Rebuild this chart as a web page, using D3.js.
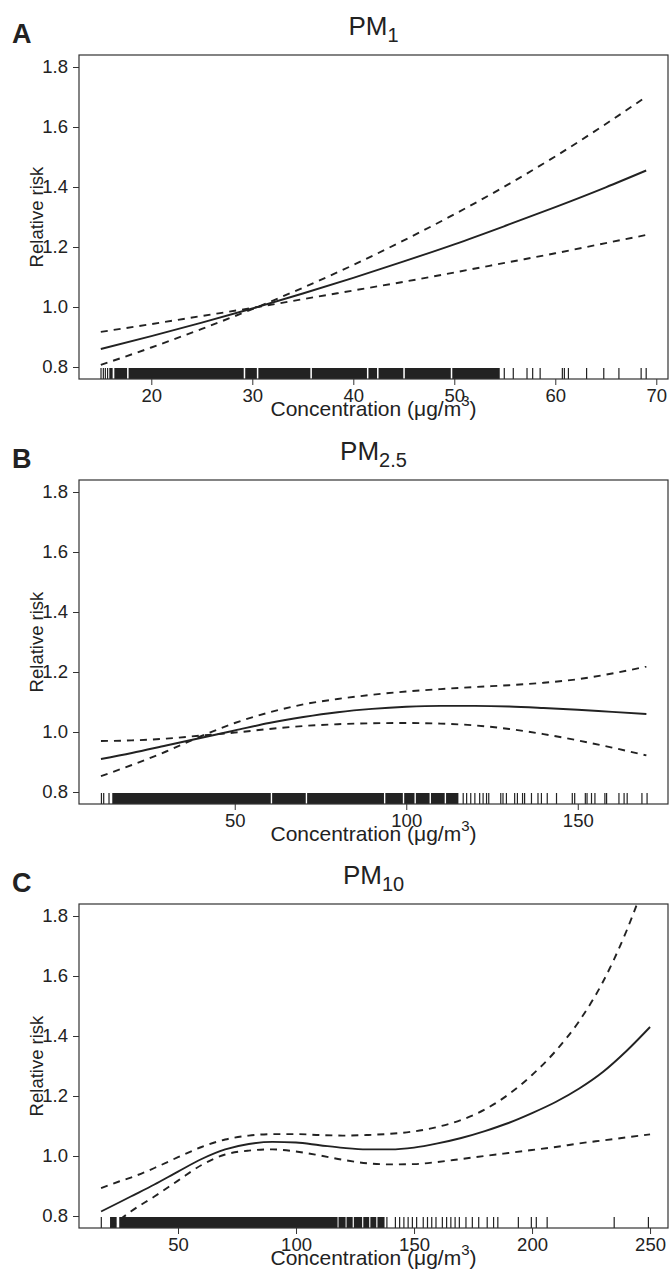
<!DOCTYPE html>
<html>
<head>
<meta charset="utf-8">
<script src="https://cdn.jsdelivr.net/npm/d3@7"></script>
<style>
  body { margin: 0; background: #fff; }
  svg { display: block; font-family: "Liberation Sans", Arial, sans-serif; }
  .tick text { fill: #222; }
  .tick line { stroke: #333; }
</style>
</head>
<body>
<svg id="chart" width="670" height="1269"></svg>
<script>
// shared y ticks
const riskTicks = [0.8, 1.0, 1.2, 1.4, 1.6, 1.8];

// PM1 (panel A)
const pm1Ticks = [20, 30, 40, 50, 60, 70];
const pm1X = [15, 20, 25, 30, 35, 40, 45, 50, 55, 60, 65, 69];
const pm1Fit = [0.860, 0.903, 0.948, 0.995, 1.045, 1.097, 1.152, 1.209, 1.270, 1.333, 1.399, 1.455];
const pm1Upper = [0.807, 0.865, 0.927, 0.993, 1.064, 1.140, 1.222, 1.309, 1.402, 1.502, 1.610, 1.701];
const pm1Lower = [0.917, 0.943, 0.970, 0.997, 1.026, 1.055, 1.084, 1.115, 1.147, 1.179, 1.213, 1.240];
const pm1Rug = [15.02, 15.25, 15.45, 15.67, 54.95, 55.84, 57.2, 57.76, 58.5, 60.7, 60.9, 61.3, 63.1, 64.8, 66.3, 68.5, 69.0];
const pm1RugDense = [[15.84, 16.17], [16.34, 17.6], [17.75, 29.15], [29.3, 30.45], [30.6, 35.75],
  [35.9, 41.35], [41.5, 42.35], [42.5, 44.95], [45.1, 49.65], [49.8, 54.5]];

// PM2.5 (panel B)
const pm25Ticks = [50, 100, 150];
const pm25X = [11, 20, 30, 40, 50, 60, 70, 80, 90, 100, 110, 120, 130, 140, 150, 160, 170];
const pm25Fit = [0.910, 0.930, 0.955, 0.980, 1.005, 1.030, 1.050, 1.066, 1.077, 1.084, 1.087, 1.087, 1.085, 1.080, 1.074, 1.067, 1.060];
const pm25Upper = [0.853, 0.890, 0.935, 0.985, 1.030, 1.065, 1.092, 1.110, 1.124, 1.135, 1.143, 1.150, 1.156, 1.164, 1.176, 1.195, 1.218];
const pm25Lower = [0.970, 0.972, 0.978, 0.988, 0.998, 1.010, 1.020, 1.026, 1.029, 1.030, 1.028, 1.022, 1.010, 0.993, 0.972, 0.948, 0.922];
const pm25Rug = [11.14, 11.8, 13.35, 116.6, 117.6, 118.8, 120.0, 121.4, 122.4, 123.4, 124.05, 127.55, 128.2,
  129.2, 131.6, 132.4, 133.9, 134.5, 136.5, 138.4, 139.4, 141.1, 143.8, 148.4, 149.1, 152.2, 152.7, 154.0,
  155.0, 157.9, 158.4, 162.0, 163.5, 164.4, 168.7, 170.2];
const pm25RugDense = [[14.3, 60.5], [60.9, 70.7], [71.1, 93.5], [93.9, 99.0], [99.4, 102.4],
  [102.8, 106.8], [107.2, 111.2], [111.6, 115.2]];

// PM10 (panel C)
const pm10Ticks = [50, 100, 150, 200, 250];
const pm10X = [17.4, 25, 30, 40, 50, 60, 70, 80, 90, 100, 110, 120, 130, 140, 150, 160, 170, 180, 190, 200, 210, 220, 230, 240, 250];
const pm10Fit = [0.815, 0.845, 0.865, 0.905, 0.948, 0.990, 1.022, 1.040, 1.047, 1.045, 1.036, 1.027, 1.022,
  1.022, 1.028, 1.042, 1.060, 1.083, 1.110, 1.143, 1.180, 1.225, 1.280, 1.350, 1.430];
const pm10Upper = [0.893, 0.915, 0.928, 0.960, 0.996, 1.030, 1.055, 1.068, 1.073, 1.073, 1.070, 1.068, 1.070,
  1.074, 1.082, 1.097, 1.120, 1.155, 1.205, 1.270, 1.350, 1.450, 1.580, 1.750, 1.960];
const pm10Lower = [0.730, 0.785, 0.815, 0.865, 0.918, 0.970, 1.005, 1.018, 1.022, 1.015, 1.002, 0.987, 0.976,
  0.972, 0.973, 0.980, 0.990, 1.000, 1.010, 1.020, 1.030, 1.042, 1.052, 1.062, 1.072];
const pm10Rug = [17.5, 138.5, 142.1, 143.9, 145.7, 147.5, 149.3, 151.1, 153.9, 155.7, 157.5, 159.3, 162.0,
  163.8, 165.6, 167.4, 169.2, 172.0, 174.7, 177.4, 181.0, 183.7, 185.5, 194.2, 199.7, 201.8, 206.4, 234.8, 249.3];
const pm10RugDense = [[21.2, 24.0], [25.1, 117.6], [118.0, 121.0], [121.4, 124.0], [124.5, 128.0],
  [128.5, 131.0], [131.5, 134.0], [134.5, 137.5]];

const svg = d3.select('#chart');
const ink = '#222';

function renderPanel(p) {
  // plot box
  const left = 79;
  const right = 668;
  const top = p.top;
  const bottom = p.top + 324;

  const x = d3.scaleLinear().domain(p.xDomain).range([left, right]);
  const y = d3.scaleLinear().domain([0.76, 1.84]).range([bottom, top]);

  const g = svg.append('g');

  const clipId = 'clip-' + p.letter;
  g.append('clipPath')
    .attr('id', clipId)
    .append('rect')
    .attr('x', left)
    .attr('y', top)
    .attr('width', right - left)
    .attr('height', bottom - top);

  // rug: dense runs and single ticks
  const rugH = 11;
  g.append('g')
    .selectAll('rect')
    .data(p.rugDense)
    .join('rect')
    .attr('x', (d) => x(d[0]))
    .attr('y', bottom - rugH)
    .attr('width', (d) => x(d[1]) - x(d[0]))
    .attr('height', rugH)
    .attr('fill', ink);

  g.append('g')
    .selectAll('line')
    .data(p.rug)
    .join('line')
    .attr('x1', (d) => x(d))
    .attr('x2', (d) => x(d))
    .attr('y1', bottom)
    .attr('y2', bottom - rugH)
    .attr('stroke', ink)
    .attr('stroke-width', 1.2);

  // curves
  const line = d3
    .line()
    .x((d) => x(d[0]))
    .y((d) => y(d[1]))
    .curve(d3.curveMonotoneX);

  const series = [
    { values: p.upper, dash: '7,6' },
    { values: p.lower, dash: '7,6' },
    { values: p.fit, dash: null },
  ];

  g.append('g')
    .attr('clip-path', `url(#${clipId})`)
    .selectAll('path')
    .data(series)
    .join('path')
    .attr('d', (s) => line(d3.zip(p.x, s.values)))
    .attr('fill', 'none')
    .attr('stroke', ink)
    .attr('stroke-width', 1.9)
    .attr('stroke-dasharray', (s) => s.dash);

  // axes
  const yAxis = g
    .append('g')
    .attr('transform', `translate(${left},0)`)
    .call(d3.axisLeft(y).tickValues(riskTicks).tickFormat(d3.format('.1f')).tickSize(6).tickPadding(5));
  yAxis.select('.domain').remove();
  yAxis.selectAll('text').attr('font-size', 18.5).attr('font-family', null);

  const xAxis = g
    .append('g')
    .attr('transform', `translate(0,${bottom})`)
    .call(d3.axisBottom(x).tickValues(p.ticks).tickSize(6).tickPadding(4));
  xAxis.select('.domain').remove();
  xAxis.selectAll('text').attr('font-size', 18.5).attr('font-family', null);

  g.append('rect')
    .attr('x', left)
    .attr('y', top)
    .attr('width', right - left)
    .attr('height', bottom - top)
    .attr('fill', 'none')
    .attr('stroke', '#333')
    .attr('stroke-width', 1.2);

  // labels
  g.append('text')
    .attr('x', 12)
    .attr('y', top - 12)
    .attr('font-size', 27)
    .attr('font-weight', 'bold')
    .attr('fill', ink)
    .text(p.letter);

  const title = g
    .append('text')
    .attr('x', (left + right) / 2)
    .attr('y', top - 20)
    .attr('text-anchor', 'middle')
    .attr('font-size', 26)
    .attr('fill', ink);
  title.append('tspan').text('PM');
  title.append('tspan').attr('font-size', 20).attr('dy', 7).text(p.sub);

  g.append('text')
    .attr('transform', `translate(43,${(top + bottom) / 2}) rotate(-90)`)
    .attr('text-anchor', 'middle')
    .attr('font-size', 18.5)
    .attr('fill', ink)
    .text('Relative risk');

  const xLabel = g
    .append('text')
    .attr('x', (left + right) / 2)
    .attr('y', bottom + 37)
    .attr('text-anchor', 'middle')
    .attr('font-size', 21)
    .attr('fill', ink);
  xLabel.append('tspan').text('Concentration (\u03bcg/m');
  xLabel.append('tspan').attr('font-size', 15).attr('dy', -10).text('3');
  xLabel.append('tspan').attr('dy', 10).text(')');
}

renderPanel({
  letter: 'A', sub: '1', top: 55, xDomain: [12.84, 71.16], ticks: pm1Ticks,
  x: pm1X, fit: pm1Fit, upper: pm1Upper, lower: pm1Lower, rug: pm1Rug, rugDense: pm1RugDense,
});

renderPanel({
  letter: 'B', sub: '2.5', top: 480, xDomain: [4.6, 176.3], ticks: pm25Ticks,
  x: pm25X, fit: pm25Fit, upper: pm25Upper, lower: pm25Lower, rug: pm25Rug, rugDense: pm25RugDense,
});

renderPanel({
  letter: 'C', sub: '10', top: 904, xDomain: [8.05, 257.6], ticks: pm10Ticks,
  x: pm10X, fit: pm10Fit, upper: pm10Upper, lower: pm10Lower, rug: pm10Rug, rugDense: pm10RugDense,
});
</script>
</body>
</html>
